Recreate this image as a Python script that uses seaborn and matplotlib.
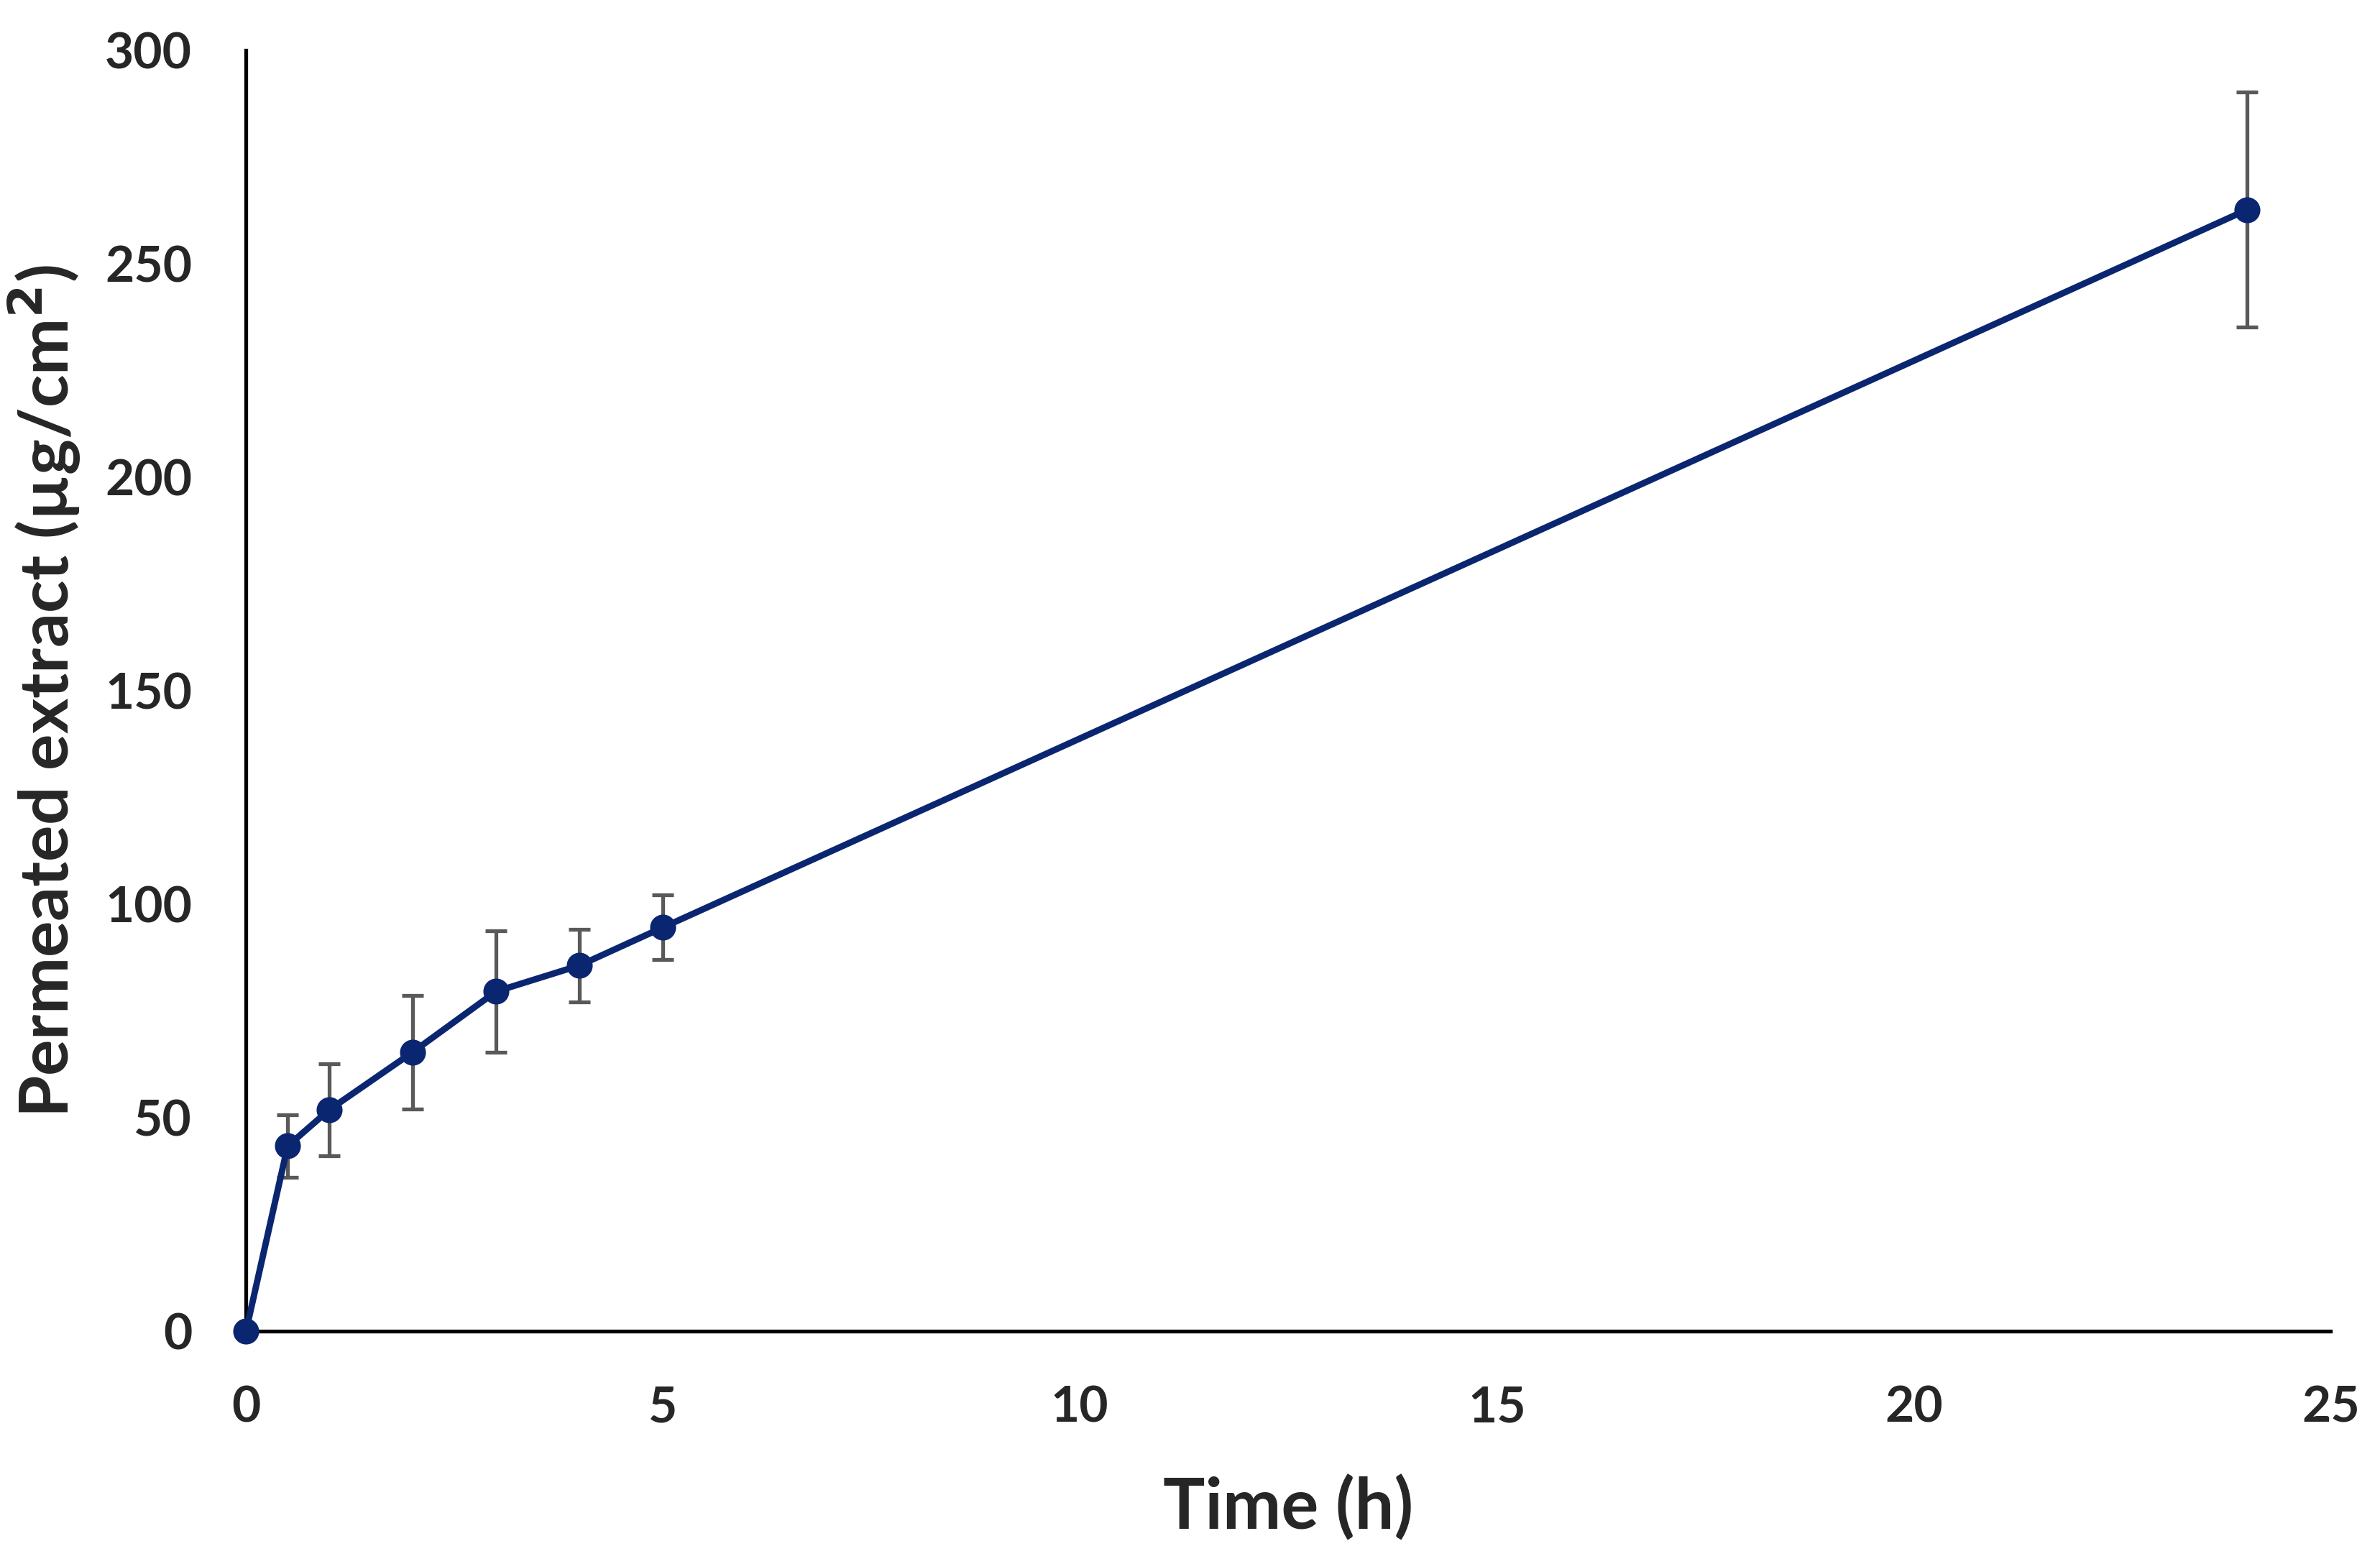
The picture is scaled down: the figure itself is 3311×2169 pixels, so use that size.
import pandas as pd
import seaborn as sns
import matplotlib.pyplot as plt

# Zeitpunkte (h) und permeierte Menge (µg/cm²) mit Standardabweichung
time_h = [0, 0.5, 1, 2, 3, 4, 5, 24]
permeated = [0, 43.4, 51.9, 65.4, 79.6, 85.7, 94.6, 262.7]
sd = [0, 7.3, 10.7, 13.3, 14.2, 8.5, 7.6, 27.5]

x_ticks = [0, 5, 10, 15, 20, 25]
y_ticks = [0, 50, 100, 150, 200, 250, 300]

data = pd.DataFrame({'Time': time_h, 'Permeated': permeated, 'SD': sd})

sns.set_style('white')
plt.rcParams['font.family'] = ['Lato', 'DejaVu Sans']

fig = plt.figure(figsize=(16.56, 10.845), dpi=200)
ax = fig.add_axes([0.1033, 0.146, 0.8757, 0.8217])

# Fehlerbalken zuerst, damit die Linie darüber liegt
ax.errorbar(data['Time'], data['Permeated'], yerr=data['SD'], fmt='none',
            ecolor='#595959', elinewidth=1.9, capsize=5.3, capthick=1.9, zorder=2)

sns.lineplot(data=data, x='Time', y='Permeated', ax=ax, color='#0b2670',
             linewidth=3.2, marker='o', markersize=13, markeredgewidth=0,
             zorder=3, clip_on=False)

ax.set_xlim(0, 25)
ax.set_ylim(0, 300)
ax.set_xticks(x_ticks)
ax.set_yticks(y_ticks)
ax.tick_params(axis='x', length=0, labelsize=25, pad=27)
ax.tick_params(axis='y', length=0, labelsize=25, pad=27)
for lbl in ax.get_xticklabels() + ax.get_yticklabels():
    lbl.set_fontweight('bold')

ax.set_xlabel('Time (h)', fontsize=35, fontweight='bold', labelpad=22)
ax.set_ylabel('Permeated extract (µg/cm$^\\mathbf{2}$)', fontsize=34,
              fontweight='bold', labelpad=11)

sns.despine(ax=ax)
for side in ['left', 'bottom']:
    ax.spines[side].set_color('black')
    ax.spines[side].set_linewidth(1.9)

fig.savefig('out.png', dpi=200)
